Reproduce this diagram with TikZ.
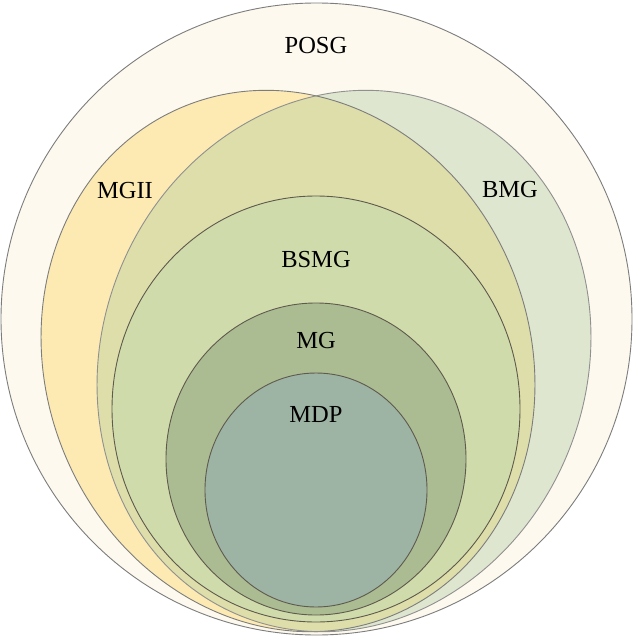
\documentclass[tikz,border=0pt]{standalone}
\usepackage{fontspec}
\setmainfont{Liberation Serif}
\definecolor{posgc}{RGB}{253,249,238}
\definecolor{mgiic}{RGB}{253,234,178}
\definecolor{bmgc}{RGB}{223,230,207}
\definecolor{overc}{RGB}{221,222,170}
\definecolor{bsmgc}{RGB}{208,219,171}
\definecolor{mgc}{RGB}{171,187,146}
\definecolor{mdpc}{RGB}{157,179,163}
\definecolor{outerline}{RGB}{125,125,125}
\definecolor{innerline}{RGB}{95,90,78}
\tikzset{
  setlabel/.style={font=\fontsize{24.5}{29}\selectfont, text=black, inner sep=0pt},
  outerset/.style={draw=outerline, line width=0.9pt},
  innerset/.style={draw=innerline, line width=0.9pt}
}
\begin{document}
\begin{tikzpicture}[x=1pt,y=-1pt]
\useasboundingbox (0,0) rectangle (632,636);
\fill[white] (0,0) rectangle (632,636);
% POSG
\path[outerset, fill=posgc] (316.5,319) ellipse [x radius=315.5pt, y radius=316pt];
% MGII and BMG fills
\fill[mgiic, shift={(288,361)}, rotate=22] (0,0) ellipse [x radius=242pt, y radius=275pt];
\fill[bmgc, shift={(344,361)}, rotate=-22] (0,0) ellipse [x radius=242pt, y radius=275pt];
\begin{scope}
  \clip[shift={(288,361)}, rotate=22] (0,0) ellipse [x radius=242pt, y radius=275pt];
  \fill[overc, shift={(344,361)}, rotate=-22] (0,0) ellipse [x radius=242pt, y radius=275pt];
\end{scope}
\draw[outerset, shift={(288,361)}, rotate=22] (0,0) ellipse [x radius=242pt, y radius=275pt];
\draw[outerset, draw=outerline!85, shift={(344,361)}, rotate=-22] (0,0) ellipse [x radius=242pt, y radius=275pt];
% BSMG, MG, MDP
\path[innerset, fill=bsmgc] (316,409) ellipse [x radius=204pt, y radius=213pt];
\path[innerset, fill=mgc] (316,459) ellipse [x radius=150pt, y radius=156pt];
\path[innerset, fill=mdpc] (316,490) ellipse [x radius=111pt, y radius=117pt];
% labels
\node[setlabel] (posg) at (316,46) {POSG};
\node[setlabel] (mgii) at (125,191) {MGII};
\node[setlabel] (bmg) at (510,190) {BMG};
\node[setlabel] (bsmg) at (316,260) {BSMG};
\node[setlabel] (mg) at (316,341) {MG};
\node[setlabel] (mdp) at (316,414) {MDP};
\end{tikzpicture}
\end{document}
